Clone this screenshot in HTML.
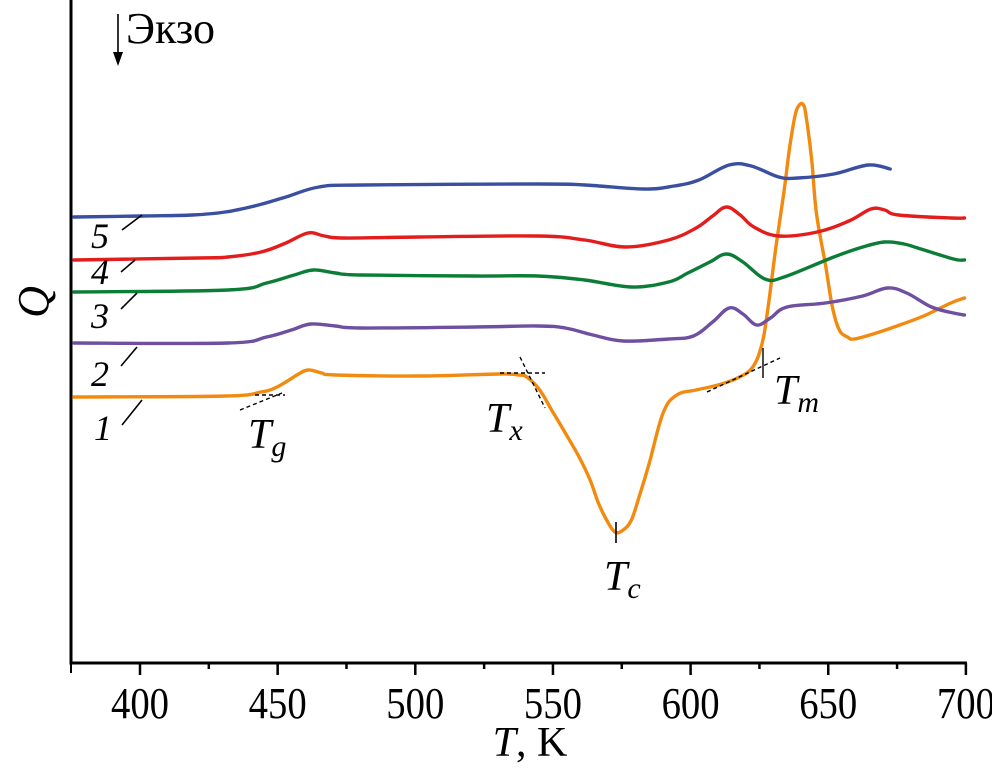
<!DOCTYPE html>
<html><head><meta charset="utf-8"><style>
html,body{margin:0;padding:0;background:#fff;}
svg{display:block;font-family:"Liberation Serif","DejaVu Serif",serif;}
</style></head><body>
<svg id="chart" width="992" height="776" viewBox="0 0 992 776" xmlns="http://www.w3.org/2000/svg">
<g id="axes"></g>
<g id="series"></g>
<g id="ann" fill="#000" font-style="italic" font-size="36">
  <text x="91" y="248">5</text>
  <line x1="122" y1="230" x2="142" y2="215" stroke="#000" stroke-width="1.6"/>
  <text x="91" y="284">4</text>
  <line x1="121" y1="272" x2="135" y2="260" stroke="#000" stroke-width="1.6"/>
  <text x="91" y="328">3</text>
  <line x1="121" y1="309" x2="137" y2="293" stroke="#000" stroke-width="1.6"/>
  <text x="91" y="386">2</text>
  <line x1="121" y1="366" x2="137" y2="347" stroke="#000" stroke-width="1.6"/>
  <text x="94" y="440">1</text>
  <line x1="122" y1="425" x2="142" y2="400" stroke="#000" stroke-width="1.6"/>
  <g stroke="#000" stroke-width="1.4" stroke-dasharray="4,3">
    <line x1="240" y1="410" x2="282" y2="393"/><line x1="255" y1="395" x2="285" y2="395"/>
  </g>
  <text x="248" y="448" font-size="42">T<tspan font-size="30" dy="8">g</tspan></text>
  <g stroke="#000" stroke-width="1.4" stroke-dasharray="4,3">
    <line x1="500" y1="373" x2="545" y2="373"/><line x1="520" y1="357" x2="545" y2="408"/>
  </g>
  <text x="486" y="432" font-size="42">T<tspan font-size="30" dy="8">x</tspan></text>
  <line x1="616" y1="522" x2="616" y2="543" stroke="#000" stroke-width="1.6"/>
  <text x="604" y="590" font-size="42">T<tspan font-size="30" dy="8">c</tspan></text>
  <g stroke="#000" stroke-width="1.4">
    <line x1="707" y1="392" x2="780" y2="358" stroke-dasharray="4,3"/><line x1="763" y1="348" x2="763" y2="378"/>
  </g>
  <text x="774" y="404" font-size="42">T<tspan font-size="30" dy="8">m</tspan></text>
  <line x1="118" y1="14" x2="118" y2="56" stroke="#000" stroke-width="1.6"/>
  <polygon points="113,52 123,52 118,66" fill="#000"/>
  <text x="126" y="43" font-style="normal" font-size="44">Экзо</text>
</g>
</svg>
<script>
const xTicks = [400, 450, 500, 550, 600, 650, 700];
const xMinor = [425, 475, 525, 575, 625, 675];
const seriesNames = ['1', '2', '3', '4', '5'];
const seriesColors = ['#f28a10', '#6e4fa0', '#0c7d36', '#e31c1c', '#3a4fa0'];
// Q values expressed as (660 - pixel y) in arbitrary units
const s5T = [376,401,419,431,443,453,465,481,544.5,561.5,583,594,603,614,622,632,639,652,664.5,672.5];
const s5Q = [443,444,445,448,455,463,473,475,476,475,471,474,480,495,494,483,482,486,495,491];
const s4T = [376,421,432,444,453,461,467,474,501.5,544.5,561.5,576.5,592,602,608,613,618,623,632,646,657.5,665.5,670.5,675.5,694.5,699.5];
const s4Q = [400,402,403,408,417,427,424,422,423,424,420,413,420,432,444,453,445,433,424,428,439,451,450,445,442,442];
const s3T = [376,432,446,456,463,471,480,521.5,544.5,561.5,578.5,592,599,607,613,619,627,634,652,662.5,670.5,677.5,682.5,695.5,699.5];
const s3Q = [368,370,377,385,390,387,385,384,384,380,373,378,387,398,406,398,381,383,403,413,418,416,412,401,400];
const s2T = [376,432,446,455,462,471,480,521.5,544.5,554.5,564.5,575.5,592,601,608,614,619,624,629,635,649,662.5,671.5,678.5,687.5,695.5,699.5];
const s2Q = [317,317,323,330,336,334,332,333,334,332,325,319,321,324,338,352,346,335,342,353,357,364,372,367,353,347,345];
const s1T = [376,431,444,449,453,457,461,466,471,501.5,530.5,537.5,540.5,545.2,549.5,554.5,559.5,563.5,566.5,569.5,572.5,575.5,578.5,581.5,585,590,595,602,610,617,622.6,626,628,631,634,636,638,639.5,641,642,644,645.7,649,651.5,654,657,659.5,667.5,676,685.5,694.5,699.5];
const s1Q = [263,264,268,272,278,285,290,287,285,284,286,285,283,270,250,227,203,180,157,140,128,130,140,165,197,247,265,270,275,282,293,317,350,413,470,513,545,555,555,543,500,447,395,353,330,323,321,327,335,345,357,362];
const allT = [s1T, s2T, s3T, s4T, s5T];
const allQ = [s1Q, s2Q, s3Q, s4Q, s5Q];

const NS = 'http://www.w3.org/2000/svg';
const X0 = 140, XS = 2.753, AXY = 663, AXL = 71, QY0 = 660;
function xs(t){ return X0 + (t - 400) * XS; }
function ys(q){ return QY0 - q; }
function mk(tag, attrs, parent){ const e = document.createElementNS(NS, tag); for (const k in attrs) e.setAttribute(k, attrs[k]); parent.appendChild(e); return e; }

const axes = document.getElementById('axes');
const yAxis = mk('line', {x1:AXL, y1:0, x2:AXL, y2:AXY, stroke:'#000', 'stroke-width':3}, axes);


const xAxis = mk('line', {x1:AXL-1.5, y1:AXY, x2:xs(700)+1, y2:AXY, stroke:'#000', 'stroke-width':3}, axes);


const lt = mk('line', {x1:AXL, y1:AXY, x2:AXL, y2:AXY+10, stroke:'#000', 'stroke-width':2}, axes);


xTicks.forEach(t => {
  const tk = mk('line', {x1:xs(t), y1:AXY, x2:xs(t), y2:AXY+12, stroke:'#000', 'stroke-width':2.5}, axes);
  
  
  const lb = mk('text', {x:xs(t), y:AXY+55, 'text-anchor':'middle', 'font-size':44, transform:'translate(' + xs(t) + ',0) scale(0.88,1) translate(' + (-xs(t)) + ',0)'}, axes);
  lb.textContent = t;
  
  
});
xMinor.forEach(t => {
  const tk = mk('line', {x1:xs(t), y1:AXY, x2:xs(t), y2:AXY+6, stroke:'#000', 'stroke-width':2.5}, axes);
  
  
});
const xt = mk('text', {x:530, y:AXY+93, 'text-anchor':'middle', 'font-size':42}, axes);
xt.innerHTML = '<tspan font-style="italic">T</tspan>, K';


const yt = mk('text', {x:0, y:0, 'font-size':44, 'font-style':'italic', 'text-anchor':'middle', transform:'translate(48,302) rotate(-90)'}, axes);
yt.textContent = 'Q';



function smoothPath(px, py){
  let d = 'M' + px[0].toFixed(1) + ',' + py[0].toFixed(1);
  const n = px.length, k = 0.18;
  for (let i = 0; i < n - 1; i++){
    const x0 = px[Math.max(i-1,0)], y0 = py[Math.max(i-1,0)];
    const x1 = px[i], y1 = py[i], x2 = px[i+1], y2 = py[i+1];
    const x3 = px[Math.min(i+2,n-1)], y3 = py[Math.min(i+2,n-1)];
    const c1x = x1 + (x2 - x0) * k, c1y = y1 + (y2 - y0) * k;
    const c2x = x2 - (x3 - x1) * k, c2y = y2 - (y3 - y1) * k;
    d += 'C' + c1x.toFixed(1) + ',' + c1y.toFixed(1) + ' ' + c2x.toFixed(1) + ',' + c2y.toFixed(1) + ' ' + x2.toFixed(1) + ',' + y2.toFixed(1);
  }
  return d;
}

const sg = document.getElementById('series');
allT.forEach((T, i) => {
  const Q = allQ[i];
  const d = smoothPath(T.map(xs), Q.map(ys));
  const p = mk('path', {d:d, fill:'none', stroke:seriesColors[i], 'stroke-width':3.4, 'stroke-linejoin':'round', 'stroke-linecap':'round'}, sg);
  
  
});
</script>
</body></html>
